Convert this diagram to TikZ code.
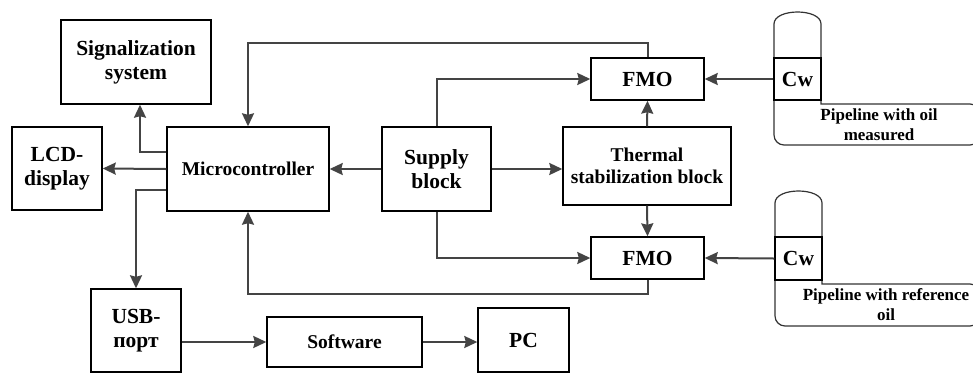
\documentclass[tikz,border=0pt]{standalone}
\usepackage{fontspec}
\setmainfont{Liberation Serif}
\usetikzlibrary{arrows.meta}
\newcommand\lblbig{\fontsize{21.5}{24}\selectfont\bfseries}
\newcommand\lblmid{\fontsize{19.5}{22}\selectfont\bfseries}
\newcommand\lblsmall{\fontsize{17}{20}\selectfont\bfseries}
\definecolor{wire}{HTML}{444444}
\definecolor{tube}{HTML}{333333}
\begin{document}
\begin{tikzpicture}[x=1pt,y=-1pt,
  box/.style={draw=black, line width=1.4pt, inner sep=0pt, align=center, font=\lblbig},
  arr/.style={draw=wire, line width=2pt, -{Stealth[length=13pt,width=12pt,inset=1.5pt]}},
  pipe/.style={draw=tube, line width=1.2pt},
  pipetext/.style={align=center, font=\lblsmall, inner sep=0pt}]
\useasboundingbox (0,0) rectangle (973,373);

% blocks
\node[box, minimum width=150pt, minimum height=84pt] (sig) at (136,62) {Signalization\\system};
\node[box, minimum width=90pt, minimum height=83pt] (lcd) at (57,168.5) {LCD-\\display};
\node[box, minimum width=162pt, minimum height=84pt, font=\lblmid] (mc) at (248,169) {Microcontroller};
\node[box, minimum width=109pt, minimum height=84pt] (sup) at (436.5,169) {Supply\\block};
\node[box, minimum width=168pt, minimum height=78pt, font=\lblmid] (th) at (647,166) {Thermal\\stabilization block};
\node[box, minimum width=113pt, minimum height=42pt] (fmo1) at (647.5,79) {FMO};
\node[box, minimum width=113pt, minimum height=42pt] (fmo2) at (647.5,258) {FMO};
\node[box, minimum width=90pt, minimum height=83pt] (usb) at (136,330.5) {USB-\\порт};
\node[box, minimum width=155pt, minimum height=50pt, font=\lblmid] (sw) at (344.5,342) {Software};
\node[box, minimum width=91pt, minimum height=64pt] (pc) at (523.5,340) {PC};

% pipelines
\draw[pipe] (774,58) -- (774,24) .. controls (774,8) and (821,8) .. (821,24) -- (821,58);
\draw[pipe] (821,100) -- (821,104) [rounded corners=10pt] -- (980,104) -- (980,145) -- (774,145) -- (774,100);
\draw[pipe] (775,237) -- (775,203) .. controls (775,187) and (822,187) .. (822,203) -- (822,237);
\draw[pipe] (822,280) -- (822,284) [rounded corners=10pt] -- (980,284) -- (980,326) -- (775,326) -- (775,280);
\node[box, minimum width=47pt, minimum height=42pt] (cw1) at (797.5,79) {Cw};
\node[box, minimum width=47pt, minimum height=43pt] (cw2) at (798.5,258.5) {Cw};
\node[pipetext] (p1) at (879,125) {Pipeline with oil\\measured};
\node[pipetext] (p2) at (886,305) {Pipeline with reference\\oil};

% connectors
\draw[arr] (mc.west |- 0,152) -| ([xshift=4pt]sig.south);
\draw[arr] (mc.west) -- (lcd.east);
\draw[arr] (mc.west |- 0,190) -| (usb.north);
\draw[arr] (fmo1.north) -- ++(0,-14) -| (mc.north);
\draw[arr] (sup.north) |- (fmo1.west);
\draw[arr] (sup.west) -- (mc.east);
\draw[arr] (sup.east) -- (sup.east -| th.west);
\draw[arr] (th.north) -- (fmo1.south);
\draw[arr] (th.south) -- (fmo2.north);
\draw[arr] (sup.south) |- (fmo2.west);
\draw[arr] (fmo2.south) -- ++(0,14) -| (mc.south);
\draw[arr] (cw1.west) -- (fmo1.east);
\draw[arr] (cw2.west) -- (fmo2.east);
\draw[arr] (usb.east |- sw.west) -- (sw.west);
\draw[arr] (sw.east) -- (sw.east -| pc.west);
\end{tikzpicture}
\end{document}
